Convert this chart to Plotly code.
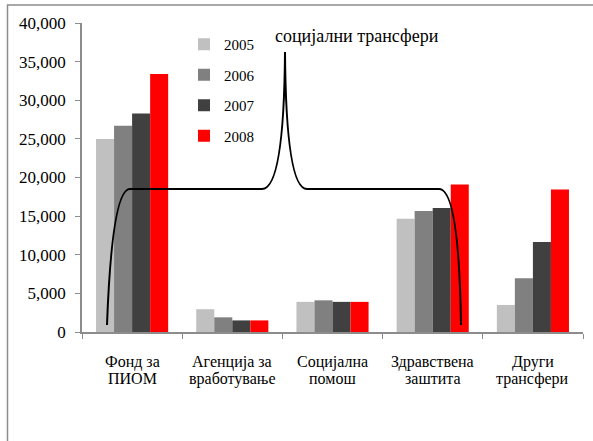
import plotly.graph_objects as go

# data
cat_line1 = ["Фонд за", "Агенција за", "Социјална", "Здравствена", "Други"]
cat_line2 = ["ПИОМ", "вработување", "помош", "заштита", "трансфери"]
categories = [a + " " + b for a, b in zip(cat_line1, cat_line2)]
years = ["2005", "2006", "2007", "2008"]
v2005 = [25000, 2950, 3900, 14650, 3500]
v2006 = [26700, 1900, 4100, 15650, 6950]
v2007 = [28300, 1500, 3900, 16050, 11650]
v2008 = [33400, 1500, 3900, 19100, 18450]
colors = ["#C0C0C0", "#808080", "#404040", "#FF0000"]

FONT = "Liberation Serif, Times New Roman, serif"
W, H = 593, 441
L, R, T, B = 82, 10, 23, 109

fig = go.Figure()
for name, vals, col in zip(years, [v2005, v2006, v2007, v2008], colors):
    fig.add_trace(go.Bar(x=categories, y=vals, name=name, marker_color=col,
                         marker_line_width=0, legendgroup=name))


# helper: pixel -> paper coordinates (for the decorative brace and frame)
def px(x):
    return (x - L) / (W - L - R)


def py(y):
    return (H - B - y) / (H - T - B)


pts = [(107, 325), (112, 189), (130, 189), (262, 189), (284, 189), (285, 52),
       (286, 189), (307, 189), (439, 189), (459, 189), (461, 325)]
p = [(px(a), py(b)) for a, b in pts]
path = (f"M{p[0][0]},{p[0][1]} Q{p[1][0]},{p[1][1]} {p[2][0]},{p[2][1]} "
        f"L{p[3][0]},{p[3][1]} Q{p[4][0]},{p[4][1]} {p[5][0]},{p[5][1]} "
        f"Q{p[6][0]},{p[6][1]} {p[7][0]},{p[7][1]} "
        f"L{p[8][0]},{p[8][1]} Q{p[9][0]},{p[9][1]} {p[10][0]},{p[10][1]}")
fig.add_shape(type="path", path=path, xref="paper", yref="paper",
              line=dict(color="black", width=2))

# outer frame
fig.add_shape(type="rect", xref="paper", yref="paper",
              x0=px(7.5), y0=py(460), x1=px(610), y1=py(5),
              line=dict(color="#8c8c8c", width=1.5), layer="below")

fig.add_annotation(text="социјални трансфери", xref="paper", yref="paper",
                   x=px(357), y=py(36), xanchor="center", yanchor="middle",
                   showarrow=False, font=dict(family=FONT, size=18, color="black"))
fig.add_annotation(text="(во милиони денари)", xref="paper", yref="paper",
                   x=px(-2), y=py(3), xanchor="left", yanchor="bottom",
                   showarrow=False, font=dict(family=FONT, size=18, color="black"))

# two-line category labels (tight line spacing as in the reference)
for c, l1, l2 in zip(categories, cat_line1, cat_line2):
    fig.add_annotation(text=l1, x=c, xref="x", y=py(362), yref="paper",
                       yanchor="middle", showarrow=False,
                       font=dict(family=FONT, size=16, color="black"))
    fig.add_annotation(text=l2, x=c, xref="x", y=py(378.5), yref="paper",
                       yanchor="middle", showarrow=False,
                       font=dict(family=FONT, size=16, color="black"))

fig.update_layout(
    width=W, height=H,
    margin=dict(l=L, r=R, t=T, b=B),
    plot_bgcolor="white", paper_bgcolor="white",
    barmode="group", bargap=0.28, bargroupgap=0,
    font=dict(family=FONT, size=15, color="black"),
    legend=dict(x=px(184), y=py(28), xanchor="left", yanchor="top",
                bgcolor="rgba(0,0,0,0)", tracegroupgap=8,
                font=dict(family=FONT, size=15), itemwidth=30),
    showlegend=True,
)
fig.update_xaxes(showline=True, linecolor="#8c8c8c", linewidth=1.5,
                 ticks="outside", tickson="boundaries", ticklen=5,
                 tickcolor="#8c8c8c", showgrid=False, showticklabels=False)
fig.update_yaxes(range=[0, 40000], dtick=5000, tickformat=",",
                 showline=True, linecolor="#8c8c8c", linewidth=1.5,
                 ticks="outside", ticklen=5, tickcolor="#8c8c8c",
                 showgrid=False, zeroline=False, ticklabelstandoff=6,
                 tickfont=dict(family=FONT, size=17))

fig.write_html("out.html", config={"displayModeBar": False},
               post_script="document.body.style.margin='0px';"
                           "document.body.style.overflow='hidden';")
